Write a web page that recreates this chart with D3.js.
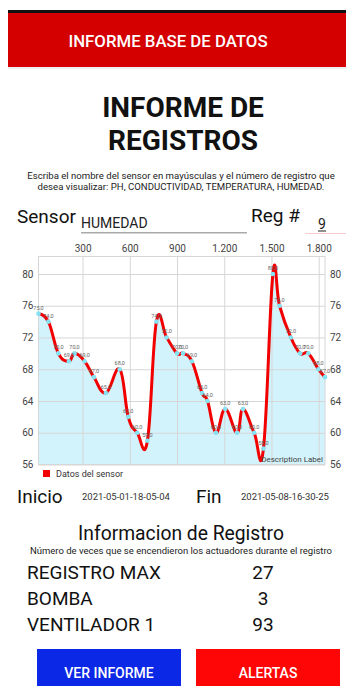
<!doctype html>
<html lang="es">
<head>
  <meta charset="utf-8">
  <title>Informe de Registros</title>
  <script src="https://cdn.jsdelivr.net/npm/d3@7"></script>
  <style>
    body{margin:0;background:#fff;font-family:Roboto,"Noto Sans",sans-serif}
    svg{display:block}
  </style>
</head>
<body>
<div id="container"></div>
<script>
// registro HUMEDAD #9
var xVals = [20, 83, 146, 213, 249, 313, 372, 448, 536, 590, 647, 712, 769, 834, 900, 938,
             995, 1059, 1094, 1147, 1206, 1281, 1319, 1390, 1449, 1509, 1551, 1623, 1682, 1734, 1798, 1840];
var yVals = [75, 74, 70, 69, 70, 69, 67, 65, 68, 62, 60, 59, 74, 72, 70, 70,
             69, 65, 64, 60, 63, 60, 63, 60, 58, 80, 76, 72, 70, 70, 68, 67];
var xTicks = [300, 600, 900, 1200, 1500, 1800];
var yTicks = [56, 60, 64, 68, 72, 76, 80];
var actuadores = ["REGISTRO MAX", "BOMBA", "VENTILADOR 1"];
var conteos = [27, 3, 93];

var data = xVals.map(function (x, i) { return {x: x, y: yVals[i]}; });

var W = 346, H = 686;
var svg = d3.select("#container").append("svg").attr("width", W).attr("height", H);

// barra superior
svg.append("rect").attr("x", 8).attr("y", 10).attr("width", 338).attr("height", 4).attr("fill", "#111");
svg.append("rect").attr("x", 8).attr("y", 13).attr("width", 338).attr("height", 54).attr("fill", "#d40000");
svg.append("rect").attr("x", 8).attr("y", 67).attr("width", 338).attr("height", 2).attr("fill", "#eee");
svg.append("text").attr("x", 168).attr("y", 47).attr("text-anchor", "middle").attr("font-weight", 500)
  .attr("fill", "#fff").attr("font-size", 16.8).text("INFORME BASE DE DATOS");

// titulo
svg.append("text").attr("x", 183).attr("y", 117).attr("text-anchor", "middle")
  .attr("font-size", 28).attr("font-weight", "bold").attr("fill", "#111").text("INFORME DE");
svg.append("text").attr("x", 183).attr("y", 150).attr("text-anchor", "middle")
  .attr("font-size", 28).attr("font-weight", "bold").attr("fill", "#111").text("REGISTROS");
svg.append("text").attr("x", 181).attr("y", 179).attr("text-anchor", "middle")
  .attr("font-size", 9.6).attr("fill", "#222")
  .text("Escriba el nombre del sensor en mayúsculas y el número de registro que");
svg.append("text").attr("x", 181).attr("y", 190).attr("text-anchor", "middle")
  .attr("font-size", 9.6).attr("fill", "#222")
  .text("desea visualizar: PH, CONDUCTIVIDAD, TEMPERATURA, HUMEDAD.");

// campos
svg.append("text").attr("x", 17).attr("y", 223).attr("font-size", 19).attr("fill", "#111").text("Sensor");
svg.append("text").attr("x", 81).attr("y", 228).attr("font-size", 14).attr("fill", "#222").text("HUMEDAD");
svg.append("rect").attr("x", 81).attr("y", 232).attr("width", 166).attr("height", 1.5).attr("fill", "#aaa");
svg.append("text").attr("x", 251).attr("y", 222).attr("font-size", 19).attr("fill", "#111").text("Reg #");
svg.append("text").attr("x", 318).attr("y", 229).attr("font-size", 14).attr("fill", "#222").text("9");
svg.append("rect").attr("x", 318).attr("y", 230.5).attr("width", 8).attr("height", 1).attr("fill", "#222");
svg.append("rect").attr("x", 305).attr("y", 233).attr("width", 41).attr("height", 1).attr("fill", "#f6c8d0");

// grafico
var pLeft = 38.5, pRight = 325, pTop = 256.5, pBottom = 464.5;
var x = d3.scaleLinear().domain([20, 1840]).range([pLeft, pRight]);
var y = d3.scaleLinear().domain([56, 82.2]).range([pBottom, pTop]);

var g = svg.append("g");
var curve = d3.curveCardinal.tension(-0.2);

g.append("path").datum(data)
  .attr("d", d3.area().x(function (d) { return x(d.x); }).y0(pBottom).y1(function (d) { return y(d.y); }).curve(curve))
  .attr("fill", "#d2f3fb");

g.append("g").attr("transform", "translate(0," + pTop + ")")
  .call(d3.axisTop(x).tickValues(xTicks).tickSize(pTop - pBottom))
  .call(function (a) {
    a.select(".domain").remove();
    a.selectAll("line").attr("stroke", "#d6d6d6");
    a.selectAll("text").attr("y", -5).attr("font-size", 10).attr("fill", "#444")
      .attr("font-family", "Roboto, sans-serif")
      .text(function (d) { return d3.format(",")(d).replace(",", "."); });
  });

g.append("g").attr("transform", "translate(" + pLeft + ",0)")
  .call(d3.axisLeft(y).tickValues(yTicks).tickSize(pLeft - pRight))
  .call(function (a) {
    a.select(".domain").remove();
    a.selectAll("line").attr("stroke", "#d6d6d6");
    a.selectAll("text").attr("x", -5).attr("font-size", 10).attr("fill", "#444")
      .attr("font-family", "Roboto, sans-serif");
  });

g.append("g").attr("transform", "translate(" + pRight + ",0)")
  .call(d3.axisRight(y).tickValues(yTicks).tickSize(0))
  .call(function (a) {
    a.select(".domain").remove();
    a.selectAll("text").attr("x", 5).attr("font-size", 10).attr("fill", "#444")
      .attr("font-family", "Roboto, sans-serif");
  });

g.append("rect").attr("x", pLeft).attr("y", pTop).attr("width", pRight - pLeft).attr("height", pBottom - pTop)
  .attr("fill", "none").attr("stroke", "#d6d6d6");

g.append("path").datum(data)
  .attr("d", d3.line().x(function (d) { return x(d.x); }).y(function (d) { return y(d.y); }).curve(curve))
  .attr("fill", "none").attr("stroke", "#f20000").attr("stroke-width", 3);

g.selectAll("circle.pt").data(data).enter().append("circle").attr("class", "pt")
  .attr("cx", function (d) { return x(d.x); })
  .attr("cy", function (d) { return y(d.y); })
  .attr("r", 2.3).attr("fill", "#84e2f2");

g.selectAll("text.val").data(data).enter().append("text").attr("class", "val")
  .attr("x", function (d) { return x(d.x); })
  .attr("y", function (d) { return y(d.y) - 4; })
  .attr("text-anchor", "middle").attr("font-size", 5.5).attr("fill", "#666")
  .text(function (d) { return d3.format(".1f")(d.y).replace(".", ","); });

g.append("text").attr("x", pRight - 2).attr("y", pBottom - 3).attr("text-anchor", "end")
  .attr("font-size", 8).attr("fill", "#444").text("Description Label");

// leyenda
svg.append("rect").attr("x", 43).attr("y", 470).attr("width", 7).attr("height", 7).attr("fill", "#f20000");
svg.append("text").attr("x", 56).attr("y", 477).attr("font-size", 9).attr("fill", "#333").text("Datos del sensor");

// fechas
svg.append("text").attr("x", 17).attr("y", 503).attr("font-size", 19).attr("fill", "#111").text("Inicio");
svg.append("text").attr("x", 82).attr("y", 500).attr("font-size", 9.5).attr("fill", "#333").text("2021-05-01-18-05-04");
svg.append("text").attr("x", 196).attr("y", 503).attr("font-size", 19).attr("fill", "#111").text("Fin");
svg.append("text").attr("x", 241).attr("y", 500).attr("font-size", 9.5).attr("fill", "#333").text("2021-05-08-16-30-25");

// informacion
svg.append("text").attr("x", 181).attr("y", 540).attr("text-anchor", "middle")
  .attr("font-size", 19.3).attr("fill", "#111").text("Informacion de Registro");
svg.append("text").attr("x", 181).attr("y", 554).attr("text-anchor", "middle")
  .attr("font-size", 9.5).attr("fill", "#222")
  .text("Número de veces que se encendieron los actuadores durante el registro");

actuadores.forEach(function (a, i) {
  var yy = 579 + i * 26;
  svg.append("text").attr("x", 27).attr("y", yy).attr("font-size", 19).attr("fill", "#111").text(a);
  svg.append("text").attr("x", 263).attr("y", yy).attr("text-anchor", "middle")
    .attr("font-size", 19).attr("fill", "#111").text(conteos[i]);
});

// botones
svg.append("rect").attr("x", 37).attr("y", 649).attr("width", 144).attr("height", 37).attr("fill", "#0a28e6");
svg.append("text").attr("x", 109).attr("y", 678).attr("text-anchor", "middle").attr("font-weight", 500)
  .attr("font-size", 14).attr("fill", "#fff").text("VER INFORME");
svg.append("rect").attr("x", 196).attr("y", 649).attr("width", 144).attr("height", 37).attr("fill", "#ff0606");
svg.append("text").attr("x", 268).attr("y", 678).attr("text-anchor", "middle").attr("font-weight", 500)
  .attr("font-size", 14).attr("fill", "#fff").text("ALERTAS");
</script>
</body>
</html>
